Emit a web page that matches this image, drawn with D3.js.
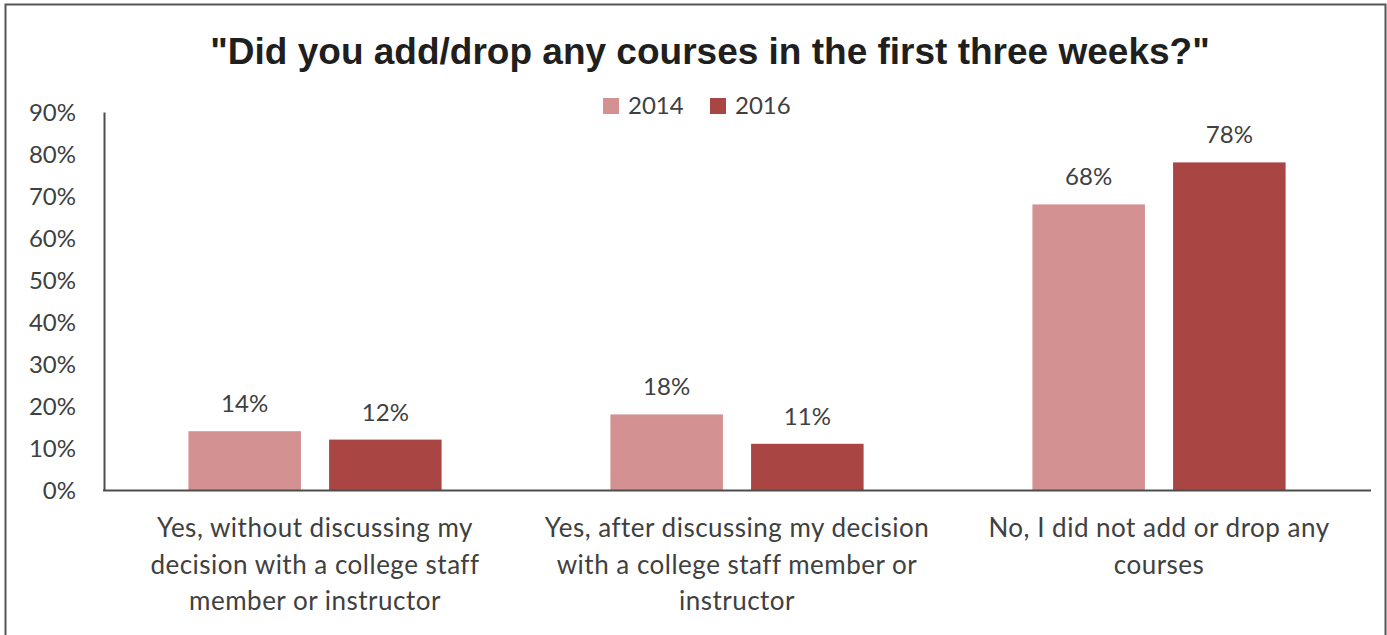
<!DOCTYPE html>
<html>
<head>
<meta charset="utf-8">
<script src="https://cdn.jsdelivr.net/npm/d3@7/dist/d3.min.js"></script>
<style>
  html, body { margin: 0; padding: 0; background: #fff; }
  svg { display: block; }
</style>
</head>
<body>
<svg id="chart" width="1387" height="635"></svg>
<script>
// Survey responses: share of students who added/dropped courses
const categories = [
  ["Yes, without discussing my", "decision with a college staff", "member or instructor"],
  ["Yes, after discussing my decision", "with a college staff member or", "instructor"],
  ["No, I did not add or drop any", "courses"]
];
const seriesNames = ["2014", "2016"];
const values2014 = [0.14, 0.18, 0.68];
const values2016 = [0.12, 0.11, 0.78];
const tickValues = [0, 0.1, 0.2, 0.3, 0.4, 0.5, 0.6, 0.7, 0.8, 0.9];
const colors = ["#D39291", "#A94644"];
const titleText = "\"Did you add/drop any courses in the first three weeks?\"";

const seriesValues = [values2014, values2016];
const rows = categories.map((c, i) => ({
  key: i,
  lines: c,
  vals: seriesNames.map((s, j) => ({ series: j, value: seriesValues[j][i] }))
}));

const svg = d3.select("#chart");
const textColor = "#404040";
const axisColor = "#4d4d4d";
const labelFont = "Lato, 'Open Sans', sans-serif";

// outer frame
svg.append("rect")
  .attr("x", 5.5).attr("y", 4.5)
  .attr("width", 1380).attr("height", 660)
  .attr("fill", "none").attr("stroke", "#555").attr("stroke-width", 2);

// title
svg.append("text")
  .attr("x", 710).attr("y", 64)
  .attr("text-anchor", "middle")
  .attr("font-family", "'Liberation Sans', Arial, sans-serif")
  .attr("font-weight", "bold")
  .attr("font-size", 37)
  .attr("fill", "#1f1f1f")
  .text(titleText);

const plotLeft = 104, plotRight = 1370, plotTop = 112, plotBottom = 490;

const x0 = d3.scaleBand()
  .domain(rows.map(r => r.key))
  .range([plotLeft, plotRight])
  .paddingInner(0.4)
  .paddingOuter(0.2);

const x1 = d3.scaleBand()
  .domain(seriesNames.map((s, j) => j))
  .range([0, x0.bandwidth()])
  .paddingInner(0.2);

const y = d3.scaleLinear().domain([0, 0.9]).range([plotBottom, plotTop]);

// bars
const groups = svg.append("g").selectAll("g")
  .data(rows).join("g")
  .attr("transform", d => `translate(${x0(d.key)},0)`);

groups.selectAll("rect")
  .data(d => d.vals).join("rect")
  .attr("x", d => x1(d.series))
  .attr("y", d => y(d.value))
  .attr("width", x1.bandwidth())
  .attr("height", d => y(0) - y(d.value))
  .attr("fill", d => colors[d.series]);

// value labels
groups.selectAll("text.val")
  .data(d => d.vals).join("text")
  .attr("class", "val")
  .attr("x", d => x1(d.series) + x1.bandwidth() / 2)
  .attr("y", d => y(d.value) - 19)
  .attr("text-anchor", "middle")
  .attr("font-family", labelFont)
  .attr("font-size", 24)
  .attr("fill", textColor)
  .text(d => d3.format(".0%")(d.value));

// y axis
const yAxis = svg.append("g")
  .attr("transform", `translate(${plotLeft},0)`)
  .call(d3.axisLeft(y).tickValues(tickValues).tickFormat(d3.format(".0%")).tickSize(0).tickPadding(28));
yAxis.select(".domain").attr("stroke", axisColor).attr("stroke-width", 2);
yAxis.selectAll("text")
  .attr("font-family", labelFont)
  .attr("font-size", 24)
  .attr("fill", textColor)
  .attr("dy", "0.36em");

// x axis baseline
svg.append("line")
  .attr("x1", plotLeft - 1).attr("x2", plotRight + 1)
  .attr("y1", y(0) + 0.5).attr("y2", y(0) + 0.5)
  .attr("stroke", axisColor).attr("stroke-width", 2);

// category labels
const catLabels = svg.append("g").selectAll("text")
  .data(rows).join("text")
  .attr("x", d => x0(d.key) + x0.bandwidth() / 2)
  .attr("y", 537)
  .attr("text-anchor", "middle")
  .attr("font-family", labelFont)
  .attr("font-size", 26)
  .attr("letter-spacing", 0.5)
  .attr("fill", textColor);
catLabels.selectAll("tspan")
  .data(d => d.lines).join("tspan")
  .attr("x", function () { return d3.select(this.parentNode).attr("x"); })
  .attr("dy", (d, i) => i === 0 ? 0 : 36.5)
  .text(d => d);

// legend
const legend = svg.append("g").selectAll("g")
  .data(seriesNames).join("g")
  .attr("transform", (d, i) => `translate(${603 + i * 107},0)`);
legend.append("rect")
  .attr("x", 0).attr("y", 98)
  .attr("width", 16).attr("height", 16)
  .attr("fill", (d, i) => colors[i]);
legend.append("text")
  .attr("x", 25).attr("y", 114)
  .attr("font-family", labelFont)
  .attr("font-size", 24)
  .attr("fill", textColor)
  .text(d => d);
</script>
</body>
</html>
